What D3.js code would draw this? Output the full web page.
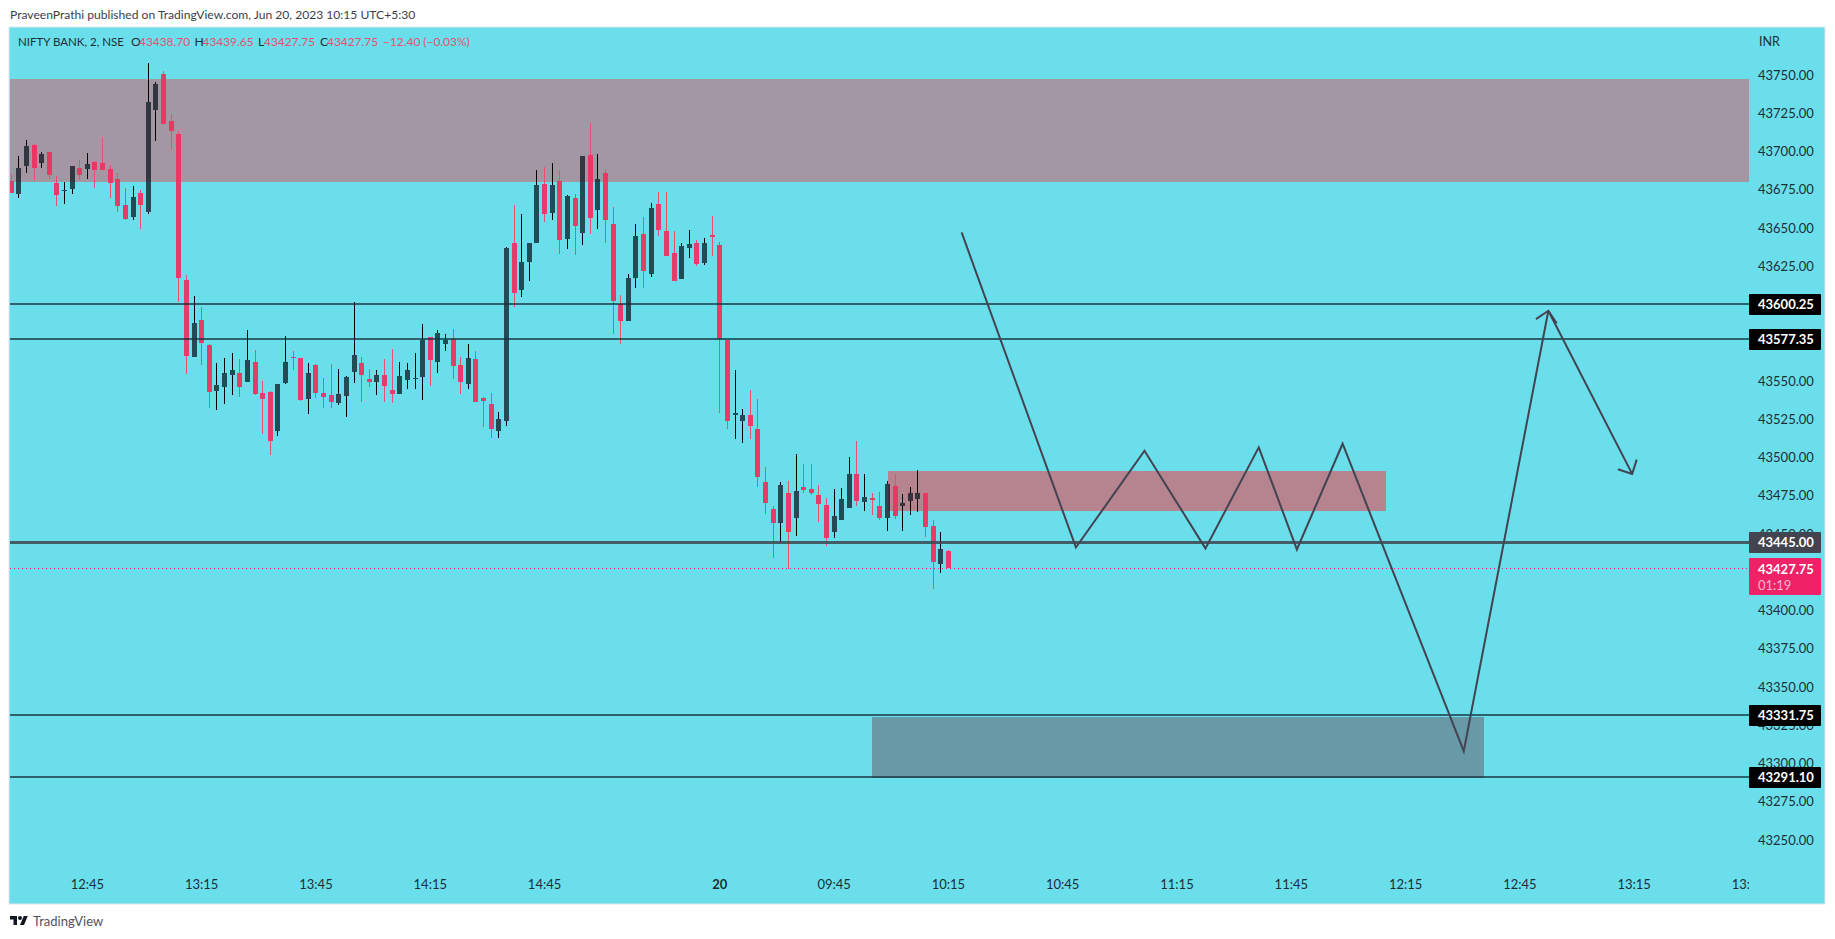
<!DOCTYPE html>
<html lang="en">
<head>
    <meta charset="UTF-8">
    <title>NIFTY BANK, 2, NSE</title>
    <script src="https://d3js.org/d3.v7.min.js"></script>
    <style>
        body{margin:0;background:#fff;}
        text{font-family:Lato,sans-serif;}
    </style>
</head>
<body>
    <div id="chart"></div>
    <script>
    //candles, one value per 2 minute bar
    let opens = [43680.6,43672.2,43690.5,43704.2,43692.5,43699.7,43679.4,43674.2,43675.5,43689.2,
        43688.5,43693.1,43692.5,43688.5,43682,43665,43657.2,43672.9,43660.4,43727.1,
        43750.6,43719.9,43711.4,43616,43565.7,43589.8,43573.5,43543.4,43546.1,43553.9,
        43555.2,43549.3,43562.4,43542.1,43542.8,43517.3,43548.7,43565.7,43565,43538.2,
        43560.4,43542.1,43540.8,43535.6,43540.2,43555.9,43561.7,43551.3,43549.3,43553.9,
        43544.1,43541.5,43550.6,43551.3,43552.6,43578.7,43562.4,43574.2,43577.4,43560.4,
        43548,43564.4,43538.9,43534.9,43517.3,43523.8,43640.2,43609.5,43627.8,43640.2,
        43678.7,43659.8,43680.7,43642.8,43669.6,43646.7,43697.7,43661.7,43685.9,43652.6,
        43600.3,43589.2,43617.3,43646.1,43619.9,43665.7,43648,43633.6,43616.6,43636.9,
        43640.2,43627.1,43645.4,43638.9,43576.8,43527.8,43523.8,43527.8,43518.6,43484,
        43466.3,43457.2,43476.8,43460.4,43480.7,43479.4,43475.5,43468.9,43451.3,43459.1,
        43467,43489.2,43470.9,43473.5,43468.3,43460.4,43481.4,43468.3,43471.5,43472.9,
        43476.8,43455.2,43430.4,43438.7];
    let highs = [43685.2,43697,43707.5,43704.9,43699.7,43699.7,43684,43680,43690.5,43694.4,
        43699,43693.8,43708.8,43691.2,43685.9,43676.1,43677.4,43674.8,43757.8,43745.4,
        43752.6,43724.5,43713.4,43619.3,43605.5,43598.3,43574.2,43561.7,43565,43568.3,
        43564.4,43583.3,43570.2,43550,43543.4,43548,43579.4,43569.6,43565,43561.7,
        43561.1,43551.9,43561.1,43557.8,43553.2,43601.6,43565.7,43557.8,43557.2,43564.4,
        43570.9,43562.4,43561.7,43568.3,43587.2,43578.7,43583.3,43580.7,43584,43565.7,
        43574.2,43569.6,43539.5,43542.1,43529.7,43637.6,43665,43659.1,43640.2,43687.9,
        43689.8,43692.5,43687.9,43671.5,43672.2,43697,43718.6,43698.3,43688.5,43663.7,
        43606.2,43619.9,43652.6,43657.2,43666.3,43673.5,43673.5,43648,43640.2,43648.7,
        43642.1,43643.4,43657.8,43640.8,43576.8,43557.2,43531.7,43544.1,43538.2,43493.8,
        43468.3,43484,43484.6,43502.3,43495.7,43495.7,43482,43473.5,43479.4,43480,
        43500.3,43510.8,43489.2,43476.8,43477.4,43484.6,43489.2,43476.1,43480.7,43491.8,
        43476.8,43459.1,43451.3,43439.65];
    let lows = [43672.8,43669.6,43685.9,43681.4,43689.2,43682,43664.4,43665.7,43672.2,43681.4,
        43682,43676.1,43687.9,43669.6,43660.4,43655.2,43655.2,43649.3,43659.1,43706.8,
        43718,43701.6,43601.6,43554.6,43565.7,43560.4,43532.3,43531,43534.9,43540.8,
        43539.5,43549.3,43540.8,43515.3,43501.6,43514,43548,43557.2,43536.9,43528.4,
        43538.9,43532.3,43532.3,43534.3,43526.4,43548.7,43536.3,43546.1,43540.8,43536.3,
        43535.6,43541.5,43544.7,43544.7,43537.6,43546.7,43555.2,43569.6,43551.3,43541.5,
        43544.7,43536.3,43519.9,43512.7,43512.7,43520.6,43598.3,43604.9,43615.3,43640.2,
        43653.9,43655.2,43633,43636.3,43632.3,43638.9,43646.1,43649.3,43640.2,43580.7,
        43574.2,43589.2,43610.8,43610.8,43618,43644.8,43631.7,43615.3,43616.6,43630.4,
        43625.1,43625.8,43631.7,43529.1,43518.6,43512.1,43509.5,43512.1,43480.7,43463,
        43434.3,43444.8,43427.1,43448.7,43476.8,43475.5,43457.8,43442.1,43447.4,43459.1,
        43467,43468.3,43465,43462.4,43459.1,43452,43459.8,43452,43462.4,43464.4,
        43448,43414,43424.5,43427.75];
    let closes = [43672.8,43689.2,43703.6,43689.2,43698.3,43684.6,43671.5,43674.8,43690.5,43684.6,
        43691.8,43687.9,43687.9,43679.4,43664.4,43655.9,43670.2,43665,43732.3,43744.1,
        43718,43713.4,43617.3,43566.3,43587.9,43574.8,43542.8,43547.4,43555.2,43557.2,
        43546.1,43563.7,43541.5,43538.2,43510.8,43548,43562.4,43565,43537.6,43555.2,
        43542.1,43539.5,43536.3,43541.5,43552.6,43567,43553.9,43549.3,43553.9,43546.7,
        43541.5,43553.2,43557.2,43551.9,43576.8,43563.7,43581.4,43576.8,43559.8,43549.3,
        43565,43536.3,43536.9,43518.6,43525.1,43636.9,43607.5,43627.8,43640.2,43678.1,
        43659.1,43678.1,43642.1,43670.9,43651.3,43697,43656.5,43682,43655.2,43602.3,
        43589.2,43617.3,43644.8,43621.9,43663.1,43648.7,43631.7,43615.3,43638.2,43639.5,
        43626.4,43640.2,43644.1,43577.4,43523.8,43529.1,43527.8,43520.6,43487.2,43470.2,
        43457.2,43482,43451.3,43478.1,43478.7,43476.8,43469.6,43447.4,43461.7,43472.9,
        43489.2,43471.5,43474.2,43472.2,43460.4,43482.7,43461.7,43470.2,43476.8,43476.8,
        43454.6,43431.7,43440.2,43427.75];

    //axes, the ticks that sit fully under a price label are left out
    let priceTicks = [43250,43275,43300,43325,43350,43375,43400,43450,43475,43500,43525,43550,43625,43650,43675,43700,43725,43750];
    let timeBars = [10,25,40,55,70,93,108,123,138,153,168,183,198,213,228];
    let timeLabels = ["12:45","13:15","13:45","14:15","14:45","20","09:45","10:15","10:45","11:15","11:45","12:15","12:45","13:15","13:45"];

    //horizontal levels
    let levelPrices = [43600.25,43577.35,43445,43331.75,43291.10];

    //zones, in [first bar, last bar, top price, bottom price]
    let supplyZone = [-5,228.1,43747.3,43680.2];
    let roseZone = [115.1,180.5,43491.1,43465.2];
    let demandZone = [113,193.3,43330.5,43290.4];

    //hand drawn projection
    let pathBars = [124.8,139.8,148.8,156.8,163.8,168.8,174.8,190.7,201.8];
    let pathPrices = [43647.1,43441.2,43504.4,43440.6,43506.6,43439.9,43509,43308.1,43595.9];
    let arrowBars = [201.8,212.8];
    let arrowPrices = [43595.9,43489.3];

    let W = 1835, H = 939,
        paneL = 10, paneT = 28, paneB = 903, scaleL = 1749, paneR = 1824,
        drawColor = "#434351", drawWidth = 2;

    let x = d3.scaleLinear().domain([0,123]).range([10.67,947.9]),
        y = d3.scaleLinear().domain([43250,43750]).range([840,75]);

    let svg = d3.select("#chart").append("svg")
        .attr("width",W).attr("height",H)
        .style("display","block");

    let defs = svg.append("defs");
    defs.append("clipPath").attr("id","plot").append("rect")
        .attr("x",paneL).attr("y",paneT).attr("width",scaleL-paneL).attr("height",paneB-paneT);

    //pane
    svg.append("rect").attr("x",paneL-1).attr("y",paneT-1)
        .attr("width",paneR-paneL+2).attr("height",paneB-paneT+2)
        .attr("fill","#6bdeeb").attr("stroke","#dfe8ee").attr("stroke-width",1);

    let plot = svg.append("g").attr("clip-path","url(#plot)");

    //zones under the candles
    [[supplyZone,"#a497a4"],[roseZone,"#b5848f"],[demandZone,"#6899a7"]].forEach(z=>{
        let d = z[0];
        plot.append("rect")
            .attr("x",Math.round(x(d[0]))).attr("y",Math.round(y(d[2])))
            .attr("width",Math.round(x(d[1]))-Math.round(x(d[0])))
            .attr("height",Math.round(y(d[3]))-Math.round(y(d[2])))
            .attr("fill",z[1]);
    });

    //candles, the wick stops at the body so it does not show through it
    let candles = plot.append("g").attr("shape-rendering","crispEdges")
        .selectAll("g").data(opens).join("g");
    candles.each(function(o,i){
        let g = d3.select(this),
            up = closes[i] > o,
            cx = Math.round(x(i)),
            top = Math.round(y(Math.max(o,closes[i]))),
            bot = Math.max(top+1,Math.round(y(Math.min(o,closes[i])))),
            hi = Math.round(y(highs[i])),
            lo = Math.round(y(lows[i]));
        [[hi,top],[bot,lo]].forEach(w=>{
            if(w[1]>w[0]) g.append("rect")
                .attr("x",cx).attr("y",w[0])
                .attr("width",1).attr("height",w[1]-w[0])
                .attr("fill",up ? "#000000" : "#e8506f");
        });
        g.append("rect")
            .attr("x",cx-2).attr("y",top)
            .attr("width",5).attr("height",bot-top)
            .attr("fill",up ? "#07121a" : "#ef2f5f")
            .attr("fill-opacity",up ? 0.72 : 0.93);
    });

    //levels
    plot.selectAll(".level").data(levelPrices).join("line")
        .attr("class","level")
        .attr("x1",paneL).attr("x2",scaleL)
        .attr("y1",(d,i)=>Math.round(y(d))+(i==2 ? 0.5 : 0))
        .attr("y2",(d,i)=>Math.round(y(d))+(i==2 ? 0.5 : 0))
        .attr("stroke",(d,i)=>i==2 ? "#3c4650" : "#14323c")
        .attr("stroke-opacity",(d,i)=>i==2 ? 0.85 : 0.72)
        .attr("stroke-width",(d,i)=>i==2 ? 3 : 2);

    //last price line
    plot.append("line")
        .attr("x1",paneL).attr("x2",scaleL)
        .attr("y1",Math.round(y(closes[123]))+0.5).attr("y2",Math.round(y(closes[123]))+0.5)
        .attr("stroke","#ef2167").attr("stroke-width",1).attr("stroke-dasharray","1,3");

    //projection
    let line = d3.line().x((d,i)=>x(pathBars[i])).y((d,i)=>y(pathPrices[i]));
    plot.append("path").datum(pathBars).attr("d",line)
        .attr("fill","none").attr("stroke",drawColor).attr("stroke-width",drawWidth).attr("stroke-linejoin","miter");
    function arrow(b0,p0,b1,p1){
        let x0=x(b0), y0=y(p0), x1=x(b1), y1=y(p1),
            a=Math.atan2(y0-y1,x0-x1), l=15,
            ax=x1+l*Math.cos(a+Math.PI/4), ay=y1+l*Math.sin(a+Math.PI/4),
            bx=x1+l*Math.cos(a-Math.PI/4), by=y1+l*Math.sin(a-Math.PI/4);
        plot.append("path").attr("d",d3.line()([[ax,ay],[x1,y1],[bx,by]]))
            .attr("fill","none").attr("stroke",drawColor).attr("stroke-width",drawWidth);
    }
    plot.append("line")
        .attr("x1",x(arrowBars[0])).attr("y1",y(arrowPrices[0]))
        .attr("x2",x(arrowBars[1])).attr("y2",y(arrowPrices[1]))
        .attr("stroke",drawColor).attr("stroke-width",drawWidth);
    arrow(pathBars[7],pathPrices[7],pathBars[8],pathPrices[8]);
    arrow(arrowBars[0],arrowPrices[0],arrowBars[1],arrowPrices[1]);

    //price axis
    let priceAxis = svg.append("g").attr("transform","translate(1758,0)")
        .call(d3.axisRight(y).tickValues(priceTicks).tickSize(0).tickPadding(0).tickFormat(d=>d.toFixed(2)));
    priceAxis.select(".domain").remove();
    priceAxis.selectAll("text").attr("font-size",13).attr("fill","#1c2f37")
        .style("font-family","Lato,sans-serif");

    //time axis, the last label is cut by the price scale
    let timeWrap = svg.append("g").attr("clip-path","url(#plot)");
    let timeAxis = timeWrap.append("g").attr("transform","translate(0,880)")
        .call(d3.axisBottom(x).tickValues(timeBars).tickSize(0).tickPadding(0).tickFormat((d,i)=>timeLabels[i]));
    timeAxis.select(".domain").remove();
    timeAxis.selectAll("text").attr("font-size",13).attr("fill","#1c2f37")
        .attr("font-weight",(d,i)=>timeLabels[i]=="20" ? "bold" : null)
        .style("font-family","Lato,sans-serif");

    //level labels
    levelPrices.forEach((p,i)=>{
        let cy = Math.round(y(p));
        svg.append("rect").attr("x",scaleL).attr("y",cy-10).attr("width",72).attr("height",21).attr("rx",1)
            .attr("fill",i==2 ? "#42444f" : "#000000");
        svg.append("text").attr("x",1758).attr("y",cy+5)
            .attr("font-size",13).attr("font-weight",700).attr("fill","#ffffff")
            .text(p.toFixed(2));
    });

    //last price label
    let lastY = Math.round(y(closes[123]));
    svg.append("rect").attr("x",scaleL).attr("y",lastY-10).attr("width",72).attr("height",37).attr("rx",1)
        .attr("fill","#ef2167");
    svg.append("text").attr("x",1758).attr("y",lastY+5.5)
        .attr("font-size",13).attr("font-weight",700).attr("fill","#ffffff").text(closes[123].toFixed(2));
    svg.append("text").attr("x",1758).attr("y",lastY+21.5)
        .attr("font-size",13).attr("fill","#fbb6cf").text("01:19");

    svg.append("text").attr("x",1759).attr("y",46)
        .attr("font-size",12.5).attr("fill","#1c2f37").text("INR");

    //legend line
    let legendDark = "#1c2f37", legendRed = "#e8506f";
    [["NIFTY BANK, 2, NSE",18,legendDark,11.5],
     ["O",131,legendDark,12.15],["43438.70",139,legendRed,11.9],
     ["H",194.5,legendDark,12.15],["43439.65",202.5,legendRed,11.9],
     ["L",258,legendDark,12.15],["43427.75",264,legendRed,11.9],
     ["C",320,legendDark,12.15],["43427.75",327,legendRed,11.9],
     ["\u221212.40 (\u22120.03%)",383,legendRed,11.9]
    ].forEach(t=>{
        svg.append("text").attr("x",t[1]).attr("y",46)
            .attr("font-size",t[3]).attr("fill",t[2]).text(t[0]);
    });

    //header and footer
    svg.append("text").attr("x",10).attr("y",19)
        .attr("font-size",12.1).attr("fill","#3a3e4a")
        .text("PraveenPrathi published on TradingView.com, Jun 20, 2023 10:15 UTC+5:30");
    let logo = svg.append("g").attr("transform","translate(10,914) scale(0.5)").attr("fill","#131722");
    logo.append("path").attr("d","M14 22H7V11H0V4h14v18zM28 22h-8l7.5-18h8L28 22z");
    logo.append("circle").attr("cx",20).attr("cy",8).attr("r",4);
    svg.append("text").attr("x",33).attr("y",926)
        .attr("font-size",13).attr("fill","#50535e").text("TradingView");
    </script>
</body>
</html>
